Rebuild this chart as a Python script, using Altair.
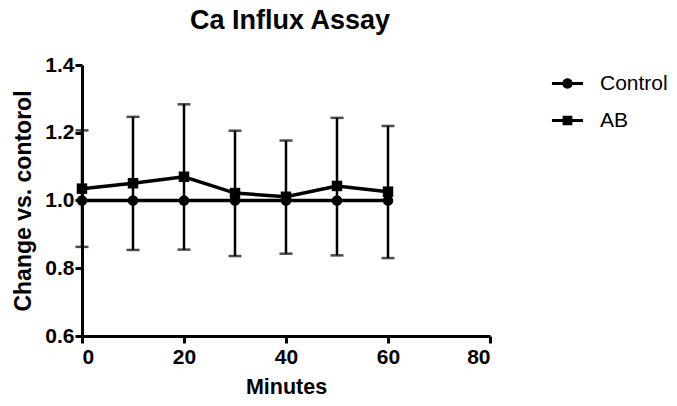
import altair as alt
import pandas as pd

minutes = [0, 10, 20, 30, 40, 50, 60]
control_mean = [1.0, 1.0, 1.0, 1.0, 1.0, 1.0, 1.0]
ab_mean = [1.035, 1.051, 1.070, 1.022, 1.011, 1.043, 1.026]
ab_upper = [1.207, 1.247, 1.284, 1.206, 1.177, 1.244, 1.220]
ab_lower = [0.863, 0.854, 0.855, 0.836, 0.843, 0.838, 0.830]
series_names = ["Control", "AB"]

rows = []
for i, m in enumerate(minutes):
    rows.append({"Minutes": m, "value": control_mean[i], "series": "Control", "lo": None, "hi": None})
    rows.append({"Minutes": m, "value": ab_mean[i], "series": "AB", "lo": ab_lower[i], "hi": ab_upper[i]})
df = pd.DataFrame(rows)
err = df[df["series"] == "AB"]
legend_df = pd.DataFrame({"series": series_names, "Minutes": [0, 0], "value": [1.0, 1.0]})

FONT = "Liberation Sans"
x_scale = alt.Scale(domain=[0, 80], nice=False, zero=False)
y_scale = alt.Scale(domain=[0.6, 1.4], nice=False, zero=False)

x_enc = alt.X("Minutes:Q", scale=x_scale,
              axis=alt.Axis(values=[0, 20, 40, 60, 80], title="Minutes", grid=False,
                            titlePadding=9, titleFontSize=21.5))
y_enc = alt.Y("value:Q", scale=y_scale,
              axis=alt.Axis(values=[0.6, 0.8, 1.0, 1.2, 1.4], format=".1f",
                            title="Change vs. contorol", grid=False, titlePadding=9,
                            titleFontSize=23))

rules = alt.Chart(err).mark_rule(color="black", strokeWidth=2.5).encode(
    x=x_enc, y=alt.Y("lo:Q", scale=y_scale), y2="hi:Q")
caps_hi = alt.Chart(err).mark_tick(color="black", orient="horizontal", size=13, thickness=2.5).encode(
    x=x_enc, y=alt.Y("hi:Q", scale=y_scale))
caps_lo = alt.Chart(err).mark_tick(color="black", orient="horizontal", size=13, thickness=2.5).encode(
    x=x_enc, y=alt.Y("lo:Q", scale=y_scale))

lines = alt.Chart(df).mark_line(color="black", strokeWidth=3.5).encode(
    x=x_enc, y=y_enc, detail="series:N")

points = alt.Chart(df).mark_point(filled=True, color="black", opacity=1, size=110).encode(
    x=x_enc, y=y_enc,
    shape=alt.Shape("series:N", scale=alt.Scale(domain=series_names, range=["circle", "square"]),
                    legend=None))

# legend glyphs: a thin filled bar (the line) plus the marker, both filled
leg_paths = [
    "M-1.5,-0.15L1.5,-0.15L1.5,0.15L-1.5,0.15Z"
    "M0.5,0A0.5,0.5,0,1,1,-0.5,0A0.5,0.5,0,1,1,0.5,0Z",
    "M-1.5,-0.15L1.5,-0.15L1.5,0.15L-1.5,0.15Z"
    "M-0.47,-0.47L0.47,-0.47L0.47,0.47L-0.47,0.47Z",
]
ghost = alt.Chart(legend_df).mark_point(filled=True, color="black", opacity=0, size=430).encode(
    x=x_enc, y=y_enc,
    shape=alt.Shape("series:N", scale=alt.Scale(domain=series_names, range=leg_paths),
                    legend=alt.Legend(title=None, orient="none", legendX=475, legendY=8,
                                      symbolOpacity=1, symbolFillColor="black",
                                      symbolStrokeWidth=0,
                                      symbolSize=430, labelOffset=22, rowPadding=15,
                                      labelFont=FONT, labelFontSize=21, labelColor="black")))

chart = alt.layer(rules, caps_hi, caps_lo, lines, points, ghost).resolve_scale(
    shape="independent"
).properties(
    width=408, height=271,
    title=alt.TitleParams("Ca Influx Assay", font=FONT, fontSize=27, fontWeight="bold",
                          color="black", anchor="middle", offset=19, dx=4),
    autosize=alt.AutoSizeParams(type="none"),
    padding={"left": 82, "top": 65, "right": 187, "bottom": 70},
).configure_view(stroke=None).configure_axis(
    domainColor="black", domainWidth=3, tickColor="black", tickWidth=3, tickSize=7,
    labelFont=FONT, labelFontSize=21, labelFontWeight="bold", labelColor="black",
    titleFont=FONT, titleFontWeight="bold", titleColor="black",
).configure_axisX(labelPadding=3).configure_axisY(labelPadding=1)

chart.save("out.html", embed_options={"renderer": "svg", "actions": False})
